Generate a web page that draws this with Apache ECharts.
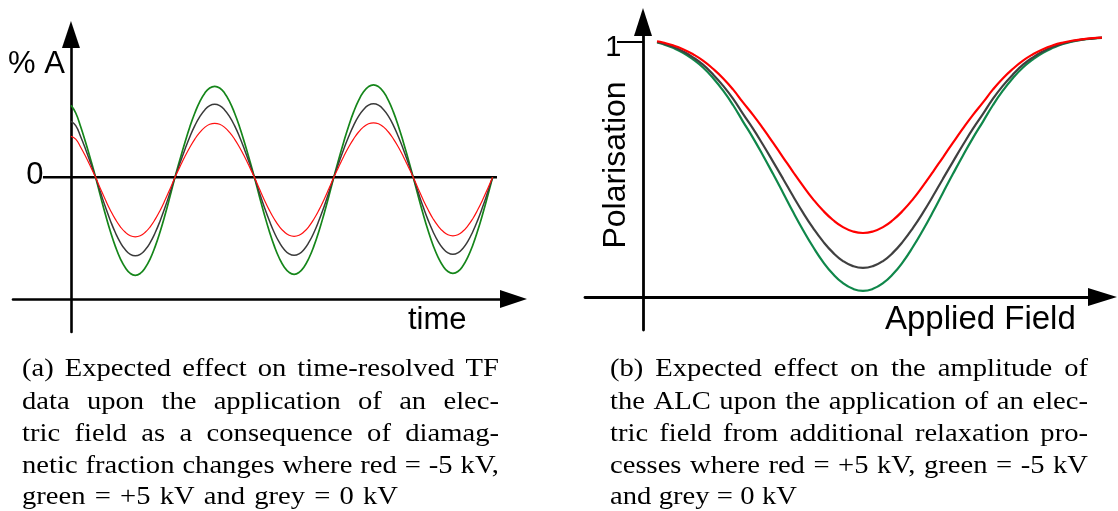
<!DOCTYPE html>
<html><head><meta charset="utf-8">
<script src="https://cdn.jsdelivr.net/npm/echarts@6/dist/echarts.min.js"></script>
<style>html,body{margin:0;padding:0;background:#fff}#c{width:1118px;height:511px}</style>
</head><body><div id="c"></div>
<script>
// ---------- Panel (a): time-resolved TF asymmetry ----------
const timeA = [0, 0.6, 1.225, 1.85, 2.475,
  3.1, 3.725, 4.35, 4.975, 5.6, 6.225, 6.85, 7.475, 8.1, 8.725, 9.35, 9.975, 10.6, 11.225, 11.85, 12.475,
  13.1, 13.725, 14.35, 14.975, 15.6, 16.225, 16.85, 17.475, 18.1, 18.725, 19.35, 19.975, 20.6, 21.225, 21.85, 22.475,
  23.1, 23.725, 24.35, 24.975, 25.6, 26.225, 26.85, 27.475, 28.1, 28.725, 29.35, 29.975, 30.6, 31.225, 31.85, 32.475,
  33.1, 33.725, 34.35, 34.975, 35.6, 36.225, 36.85, 37.475, 38.1, 38.725, 39.35, 39.975, 40.6, 41.225, 41.85, 42.475,
  43.1, 43.725, 44.35, 44.975, 45.6, 46.225, 46.85, 47.475, 48.1, 48.725, 49.35, 49.975, 50.6, 51.225, 51.85, 52.475,
  53.1];
const greenA = [7.2, 6.43, 5.06, 3.48, 1.78,
  0, -1.91, -3.75, -5.44, -6.93, -8.15, -9.05, -9.61, -9.8, -9.61, -9.05, -8.15, -6.93, -5.44, -3.75, -1.91,
  0, 1.78, 3.48, 5.06, 6.43, 7.57, 8.41, 8.93, 9.1, 8.93, 8.41, 7.57, 6.43, 5.06, 3.48, 1.78,
  0, -1.89, -3.71, -5.39, -6.86, -8.07, -8.96, -9.51, -9.7, -9.51, -8.96, -8.07, -6.86, -5.39, -3.71, -1.89,
  0, 1.80, 3.54, 5.14, 6.54, 7.69, 8.55, 9.07, 9.25, 9.07, 8.55, 7.69, 6.54, 5.14, 3.54, 1.80,
  0, -1.87, -3.67, -5.33, -6.79, -7.98, -8.87, -9.42, -9.6, -9.42, -8.87, -7.98, -6.79, -5.33, -3.67, -1.87,
  0];
const greyA = [5.6, 5.16, 4.06, 2.79, 1.42,
  0, -1.53, -3.00, -4.36, -5.55, -6.53, -7.25, -7.70, -7.85, -7.70, -7.25, -6.53, -5.55, -4.36, -3.00, -1.53,
  0, 1.42, 2.79, 4.06, 5.16, 6.07, 6.74, 7.16, 7.3, 7.16, 6.74, 6.07, 5.16, 4.06, 2.79, 1.42,
  0, -1.52, -2.99, -4.33, -5.52, -6.49, -7.21, -7.65, -7.8, -7.65, -7.21, -6.49, -5.52, -4.33, -2.99, -1.52,
  0, 1.43, 2.81, 4.08, 5.20, 6.11, 6.79, 7.21, 7.35, 7.21, 6.79, 6.11, 5.20, 4.08, 2.81, 1.43,
  0, -1.50, -2.95, -4.28, -5.44, -6.40, -7.11, -7.55, -7.7, -7.55, -7.11, -6.40, -5.44, -4.28, -2.95, -1.50,
  0];
const redA = [4.1, 3.82, 3.00, 2.07, 1.05,
  0, -1.16, -2.28, -3.31, -4.21, -4.95, -5.50, -5.84, -5.95, -5.84, -5.50, -4.95, -4.21, -3.31, -2.28, -1.16,
  0, 1.05, 2.07, 3.00, 3.82, 4.49, 4.99, 5.30, 5.4, 5.30, 4.99, 4.49, 3.82, 3.00, 2.07, 1.05,
  0, -1.15, -2.26, -3.28, -4.17, -4.91, -5.45, -5.79, -5.9, -5.79, -5.45, -4.91, -4.17, -3.28, -2.26, -1.15,
  0, 1.06, 2.09, 3.03, 3.85, 4.53, 5.04, 5.35, 5.45, 5.35, 5.04, 4.53, 3.85, 3.03, 2.09, 1.06,
  0, -1.14, -2.24, -3.25, -4.14, -4.86, -5.40, -5.74, -5.85, -5.74, -5.40, -4.86, -4.14, -3.25, -2.24, -1.14,
  0];
const zeroLineA = [-3.53, 53.65];
const yLabelsA = [0];

// ---------- Panel (b): ALC polarisation ----------
const fieldB = [1.4, 2, 3, 4, 5, 6, 7, 8, 9, 10, 11, 12, 13, 14, 15, 16, 17, 18, 19, 20, 21, 22,
  23, 24, 25, 26, 27, 28, 29, 30, 31, 32, 33, 34, 35, 36, 37, 38, 39, 40, 41, 42, 43, 44, 45, 45.9];
const redB = [1.003, 0.998, 0.987, 0.972, 0.952, 0.927, 0.895, 0.858, 0.814, 0.763, 0.714, 0.661, 0.605, 0.548,
  0.491, 0.436, 0.384, 0.339, 0.302, 0.274, 0.257, 0.251, 0.257, 0.274, 0.302, 0.339, 0.384, 0.436, 0.491,
  0.548, 0.605, 0.661, 0.714, 0.763, 0.814, 0.858, 0.895, 0.927, 0.952, 0.972, 0.987, 0.998, 1.006, 1.011,
  1.015, 1.017];
const greyB = [1.000, 0.994, 0.981, 0.963, 0.940, 0.911, 0.873, 0.829, 0.778, 0.718, 0.660, 0.597, 0.531, 0.464,
  0.396, 0.331, 0.271, 0.218, 0.174, 0.141, 0.121, 0.114, 0.121, 0.141, 0.174, 0.218, 0.271, 0.331, 0.396,
  0.464, 0.531, 0.597, 0.660, 0.718, 0.778, 0.829, 0.873, 0.911, 0.940, 0.963, 0.981, 0.994, 1.004, 1.010,
  1.014, 1.017];
const greenB = [0.998, 0.992, 0.977, 0.958, 0.932, 0.900, 0.859, 0.810, 0.753, 0.688, 0.624, 0.555, 0.483, 0.409,
  0.334, 0.263, 0.197, 0.138, 0.090, 0.054, 0.032, 0.024, 0.032, 0.054, 0.090, 0.138, 0.197, 0.263, 0.334,
  0.409, 0.483, 0.555, 0.624, 0.688, 0.753, 0.810, 0.859, 0.900, 0.932, 0.958, 0.977, 0.992, 1.002, 1.009,
  1.013, 1.016];
const yLabelsB = [1];

// ---------- Texts ----------
const captionA = [
  "(a) Expected effect on time-resolved TF",
  "data upon the application of an elec-",
  "tric field as a consequence of diamag-",
  "netic fraction changes where red = -5 kV,",
  "green = +5 kV and grey = 0 kV"
];
const captionB = [
  "(b) Expected effect on the amplitude of",
  "the ALC upon the application of an elec-",
  "tric field from additional relaxation pro-",
  "cesses where red = +5 kV, green = -5 kV",
  "and grey = 0 kV"
];

function pairs(xs, ys) { return xs.map((x, i) => [x, ys[i]]); }

const SANS = '"Liberation Sans", Arial, sans-serif';
const CAP_FONT = '26px "Liberation Serif", serif';
const SX = 1.1;
const mctx = document.createElement('canvas').getContext('2d');
mctx.font = CAP_FONT;

function captionEls(lines, x0, ends, ys) {
  const els = [];
  lines.forEach((line, i) => {
    const words = line.split(' ');
    const widths = words.map(w => mctx.measureText(w).width * SX);
    const total = widths.reduce((a, b) => a + b, 0);
    const gap = words.length > 1 ? (ends[i] - x0 - total) / (words.length - 1) : 0;
    let x = x0;
    words.forEach((w, j) => {
      els.push({ type: 'text', x: x, y: ys[i], scaleX: SX, silent: true,
        style: { text: w, font: CAP_FONT, fill: '#000', align: 'left', verticalAlign: 'middle' } });
      x += widths[j] + gap;
    });
  });
  return els;
}

const capYs = [369, 402, 434, 466, 497];
const graphics = [].concat(
  captionEls(captionA, 22, [499, 499, 499, 499, 398], capYs),
  captionEls(captionB, 610, [1088, 1088, 1088, 1088, 797], capYs),
  [
    { type: 'text', x: 8, y: 64, silent: true, style: { text: '% A', font: '31px ' + SANS, fill: '#000', align: 'left', verticalAlign: 'middle' } },
    { type: 'text', x: 408, y: 320, silent: true, style: { text: 'time', font: '31px ' + SANS, fill: '#000', align: 'left', verticalAlign: 'middle' } },
    { type: 'text', x: 885, y: 320, silent: true, style: { text: 'Applied Field', font: '33px ' + SANS, fill: '#000', align: 'left', verticalAlign: 'middle' } },
    { type: 'text', x: 616, y: 165, rotation: Math.PI / 2, silent: true, style: { text: 'Polarisation', font: '32px ' + SANS, fill: '#000', align: 'center', verticalAlign: 'middle' } }
  ]
);

const axisLineStyle = { color: '#000', width: 2.6 };

const option = {
  animation: false,
  backgroundColor: '#fff',
  grid: [
    { left: 13, top: 34.5, right: 604.5, bottom: 179, outerBoundsMode: 'none', containLabel: false },
    { left: 585, top: 22, right: 15.5, bottom: 181, outerBoundsMode: 'none', containLabel: false }
  ],
  xAxis: [
    { gridIndex: 0, type: 'value', min: -7.30, max: 55.73, offset: -33,
      axisLine: { show: true, onZero: false, symbol: ['none', 'triangle'], symbolSize: [18, 27], lineStyle: axisLineStyle },
      axisTick: { show: false }, axisLabel: { show: false }, splitLine: { show: false } },
    { gridIndex: 1, type: 'value', min: -5.8, max: 45.95, offset: -33,
      axisLine: { show: true, onZero: false, symbol: ['none', 'triangle'], symbolSize: [18, 29], lineStyle: { color: '#000', width: 2.8 } },
      axisTick: { show: false }, axisLabel: { show: false }, splitLine: { show: false } }
  ],
  yAxis: [
    { gridIndex: 0, type: 'value', min: -15.47, max: 14.28,
      axisLine: { show: true, onZero: true, symbol: ['none', 'triangle'], symbolSize: [18, 27], lineStyle: axisLineStyle },
      axisTick: { show: false },
      axisLabel: { show: true, customValues: yLabelsA, formatter: v => (v === 0 ? '{v|0}' : ''), margin: -30.5,
        rich: { v: { color: '#000', fontSize: 31, fontFamily: SANS, padding: [0, 0, 4, 0] } } },
      splitLine: { show: false } },
    { gridIndex: 1, type: 'value', min: -0.1294, max: 1.0784,
      axisLine: { show: true, onZero: true, symbol: ['none', 'triangle'], symbolSize: [18, 28], lineStyle: { color: '#000', width: 2.8 } },
      axisTick: { show: true, customValues: yLabelsB, length: 26, lineStyle: { color: '#000', width: 2 } },
      axisLabel: { show: true, customValues: yLabelsB, formatter: v => (v === 1 ? '{v|1}' : ''), margin: -36.4,
        rich: { v: { color: '#000', fontSize: 29, fontFamily: SANS, padding: [12, 0, 0, 0] } } },
      splitLine: { show: false } }
  ],
  series: [
    { name: 'zero', type: 'line', xAxisIndex: 0, yAxisIndex: 0, data: zeroLineA.map(x => [x, 0]),
      symbol: 'none', lineStyle: { color: '#000', width: 2.6 }, z: 1, silent: true },
    { name: 'green (+5 kV)', type: 'line', xAxisIndex: 0, yAxisIndex: 0, data: pairs(timeA, greenA), smooth: true,
      symbol: 'none', lineStyle: { color: '#15861a', width: 1.7 }, z: 2 },
    { name: 'grey (0 kV)', type: 'line', xAxisIndex: 0, yAxisIndex: 0, data: pairs(timeA, greyA), smooth: true,
      symbol: 'none', lineStyle: { color: '#3a3a3a', width: 1.5 }, z: 3 },
    { name: 'red (-5 kV)', type: 'line', xAxisIndex: 0, yAxisIndex: 0, data: pairs(timeA, redA), smooth: true,
      symbol: 'none', lineStyle: { color: '#ff1010', width: 1.2 }, z: 4 },
    { name: 'green (-5 kV)', type: 'line', xAxisIndex: 1, yAxisIndex: 1, data: pairs(fieldB, greenB), smooth: true,
      symbol: 'none', lineStyle: { color: '#0f874a', width: 2.2 }, z: 2 },
    { name: 'grey (0 kV) b', type: 'line', xAxisIndex: 1, yAxisIndex: 1, data: pairs(fieldB, greyB), smooth: true,
      symbol: 'none', lineStyle: { color: '#404040', width: 2.2 }, z: 3 },
    { name: 'red (+5 kV)', type: 'line', xAxisIndex: 1, yAxisIndex: 1, data: pairs(fieldB, redB), smooth: true,
      symbol: 'none', lineStyle: { color: '#ff0000', width: 2.2 }, z: 4 }
  ],
  graphic: graphics
};

const chart = echarts.init(document.getElementById('c'), null, { renderer: 'canvas', width: 1118, height: 511 });
chart.setOption(option);
</script>
</body></html>
